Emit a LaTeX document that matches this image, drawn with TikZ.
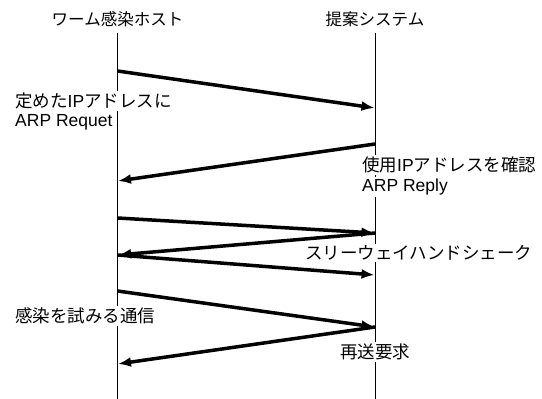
\documentclass[tikz,border=0pt]{standalone}
\usepackage{fontspec}
\setmainfont{Liberation Sans}
\newfontfamily\cjk{Noto Sans CJK JP}
\usetikzlibrary{arrows.meta}
\tikzset{
  lifeline/.style={line width=1pt, black},
  msg/.style={line width=3.5pt, black, -{Latex[length=13pt,width=10pt]}, shorten >=0.5pt},
  head/.style={inner sep=0pt, font=\fontsize{16.5}{21}\selectfont},
  lbl/.style={inner xsep=0pt, inner ysep=2pt, fill=white, font=\fontsize{17.5}{22}\selectfont},
}
\begin{document}
\begin{tikzpicture}[x=1pt,y=-1pt]
\useasboundingbox (0,0) rectangle (542,399);
% headers
\node[head] (hostlbl) at (117.5,19) {\cjk ワーム感染ホスト};
\node[head] (syslbl) at (375,19) {\cjk 提案システム};
% lifeline ends
\coordinate (hT) at (117.5,33);
\coordinate (hB) at (117.5,399);
\coordinate (sT) at (375,33);
\coordinate (sB) at (375,399);
\draw[lifeline] (hT) -- (hB);
\draw[lifeline] (sT) -- (sB);
% labels
\node[lbl, anchor=west] (l1a) at (15,101) {{\cjk 定めた}IP{\cjk アドレスに}};
\node[lbl, anchor=west] (l1b) at (15,122) {ARP Requet};
\node[lbl, anchor=west] (l2a) at (362,165) {{\cjk 使用}IP{\cjk アドレスを確認}};
\node[lbl, anchor=west] (l2b) at (362,187) {ARP Reply};
\node[lbl, anchor=west] (l3) at (305,253) {\cjk スリーウェイハンドシェーク};
\node[lbl, anchor=west] (l4) at (15,316) {\cjk 感染を試みる通信};
\node[lbl] (l5) at (375,352) {\cjk 再送要求};
% message points
\coordinate (h1) at (117.5,71);
\coordinate (s1) at (375,108);
\coordinate (s2) at (375,144);
\coordinate (h2) at (117.5,181);
\coordinate (h3) at (117.5,218);
\coordinate (s3) at (375,233);
\coordinate (h4) at (117.5,255);
\coordinate (s4) at (375,275);
\coordinate (h5) at (117.5,291);
\coordinate (s5) at (375,327);
\coordinate (h6) at (117.5,364);
\draw[msg] (h1) -- (s1);
\draw[msg] (s2) -- (h2);
\draw[msg] (h3) -- (s3);
\draw[msg] (s3) -- (h4);
\draw[msg] (h4) -- (s4);
\draw[msg] (h5) -- (s5);
\draw[msg] (s5) -- (h6);
\end{tikzpicture}
\end{document}
